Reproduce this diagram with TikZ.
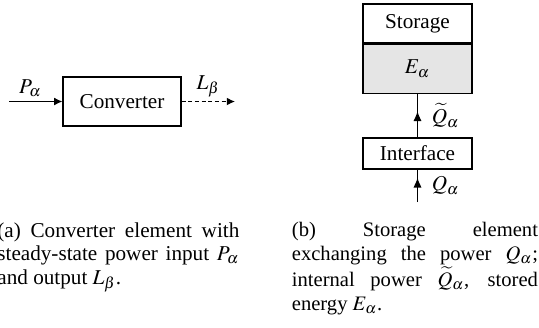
\documentclass[tikz,border=0pt]{standalone}
\usepackage{mathptmx}
\usepackage{fontspec}
\setmainfont{Liberation Serif}
\usetikzlibrary{arrows.meta,decorations.markings}

% captions are justified and never hyphenated
\tolerance=9999
\hyphenpenalty=10000
\exhyphenpenalty=10000

\newcommand{\capfont}{\fontsize{10.8}{12}\selectfont}
\tikzset{
  blk/.style={draw, line width=0.6pt, inner sep=0pt, font=\capfont},
  flow/.style={line width=0.6pt, -{Latex[length=4.2pt,width=4pt]}},
  dashflow/.style={flow, dash pattern=on 2pt off 1.4pt},
  midflow/.style={line width=0.6pt, decoration={markings,
      mark=at position #1 with {\arrow{Latex[length=5pt,width=4.2pt]}}},
      postaction={decorate}},
  lbl/.style={font=\capfont, inner sep=2pt},
  captxt/.style={anchor=north west, inner sep=0pt, align=justify, font=\capfont}
}

\begin{document}
\begin{tikzpicture}[x=0.51pt,y=-0.51pt]
\useasboundingbox (0,0) rectangle (539,327);

% (a) converter element
\node[blk, minimum width=60.2pt, minimum height=25pt] (conv) at (122,101.5) {Converter};
\coordinate (pin) at (9,101.5);
\coordinate (lout) at (235,101.5);
\draw[flow] (pin) -- (conv.west) node[lbl, pos=0.4, above] {$P_\alpha$};
\draw[dashflow] (conv.east) -- (lout) node[lbl, midway, above] {$L_\beta$};

% (b) storage element
\node[blk, minimum width=55.6pt, minimum height=19.9pt] (stor) at (417.5,23.5) {Storage};
\node[blk, fill=gray!20, minimum width=55.6pt, minimum height=25pt, anchor=north]
  (energy) at (stor.south) {$E_\alpha$};
\node[blk, minimum width=55.6pt, minimum height=15.8pt] (intf) at (417.5,153.5) {Interface};
\coordinate (qin) at (417.5,202);
\draw[midflow=0.6] (intf.north) -- (energy.south)
  node[lbl, midway, right, xshift=5pt] {$\widetilde{Q}_\alpha$};
\draw[midflow=0.75] (qin) -- (intf.south)
  node[lbl, midway, right, xshift=5pt] {$Q_\alpha$};

% captions
\node[captxt, text width=123.4pt] (capa) at (-3,222)
  {(a) Converter element with steady-state power input $P_\alpha$ and output $L_\beta$.\par};
\node[captxt, text width=125.5pt, font=\fontsize{10.5}{12}\selectfont] (capb) at (291.5,222)
  {(b) Storage element exchanging the power $Q_\alpha$; internal power $\widetilde{Q}_\alpha$, stored energy $E_\alpha$.\par};
\end{tikzpicture}
\end{document}
